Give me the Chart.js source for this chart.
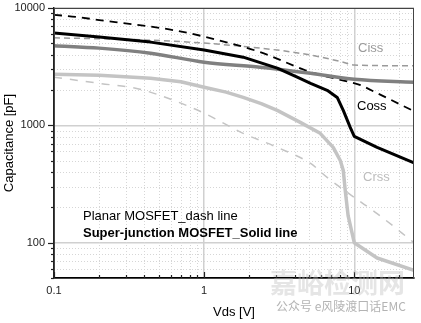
<!DOCTYPE html>
<html>
<head>
<meta charset="utf-8">
<script src="https://cdn.jsdelivr.net/npm/chart.js@4/dist/chart.umd.min.js"></script>
<style>
  html, body { margin: 0; padding: 0; background: #fff; }
  #wrap { width: 421px; height: 323px; }
</style>
</head>
<body>
<div id="wrap"><canvas id="capChart" width="421" height="323"></canvas></div>
<script>
// Vds [V] / capacitance [pF]
const cossSjV = [0.1, 0.2, 0.44, 1, 1.82, 3.07, 4.17, 5.12, 6.6, 7.7, 8.45, 9.4, 10, 14.2, 25];
const cossSjC = [6110, 5650, 5120, 4380, 3810, 3070, 2570, 2280, 1990, 1730, 1340, 960, 805, 649, 478];

const cissSjV = [0.1, 0.2, 0.44, 1, 2.36, 5.12, 10, 25];
const cissSjC = [4770, 4550, 4120, 3450, 3130, 2780, 2470, 2330];

const crssSjV = [0.1, 0.2, 0.44, 0.7, 1, 1.4, 1.82, 2.4, 3.07, 4.37, 5.93, 7.24, 8.07, 8.45, 8.71, 9.1, 10, 14.2, 25];
const crssSjC = [2730, 2670, 2520, 2350, 2110, 1920, 1730, 1530, 1340, 1060, 855, 649, 502, 412, 278, 170, 100, 74, 58];

const cissPlV = [0.1, 0.44, 1, 3.07, 5.12, 8.45, 10, 25];
const cissPlC = [5570, 5320, 5020, 4380, 3970, 3450, 3260, 3220];

const cossPlV = [0.1, 0.142, 0.2, 0.288, 0.417, 0.62, 1, 2.36, 5.12, 9.4, 11, 14.2, 25];
const cossPlC = [8750, 8380, 7890, 7440, 7010, 6490, 5700, 4210, 2840, 2330, 2200, 1880, 1320];

const crssPlV = [0.1, 0.2, 0.374, 0.62, 1, 1.82, 3.07, 5.12, 6.6, 10, 14.2, 25];
const crssPlC = [2570, 2280, 2030, 1640, 1270, 855, 649, 473, 360, 243, 177, 100];

const xTicks = [0.1, 0.2, 0.3, 0.4, 0.5, 0.6, 0.7, 0.8, 0.9, 1, 2, 3, 4, 5, 6, 7, 8, 9, 10, 20];
const yTicks = [50, 60, 70, 80, 90, 100, 200, 300, 400, 500, 600, 700, 800, 900,
                1000, 2000, 3000, 4000, 5000, 6000, 7000, 8000, 9000, 10000];

const FONT = "'Liberation Sans', Arial, sans-serif";

const pts = (xs, ys) => xs.map((x, i) => ({ x, y: ys[i] }));
const isMajor = v => Math.abs(Math.log10(v) - Math.round(Math.log10(v))) < 1e-9;

const line = (data, color, width, dash, smooth) => ({
  data,
  borderColor: color,
  borderWidth: width,
  borderDash: dash || [],
  pointRadius: 0,
  fill: false,
  tension: 0,
  cubicInterpolationMode: smooth ? "monotone" : "default",
  borderJoinStyle: "round",
});

// dotted minor grid, tick marks, frame and the in-plot texts
const extras = {
  id: "extras",
  beforeDatasetsDraw(chart) {
    const { ctx, chartArea: a, scales: { x, y } } = chart;
    ctx.save();
    ctx.strokeStyle = "#d6d6d6";
    ctx.lineWidth = 1;
    ctx.setLineDash([1, 2]);
    xTicks.filter(v => !isMajor(v)).forEach(v => {
      const px = Math.round(x.getPixelForValue(v)) + 0.5;
      ctx.beginPath(); ctx.moveTo(px, a.top); ctx.lineTo(px, a.bottom); ctx.stroke();
    });
    yTicks.filter(v => !isMajor(v)).forEach(v => {
      const py = Math.round(y.getPixelForValue(v)) + 0.5;
      ctx.beginPath(); ctx.moveTo(a.left, py); ctx.lineTo(a.right, py); ctx.stroke();
    });
    ctx.restore();
  },
  afterDraw(chart) {
    const { ctx, chartArea: a, scales: { x, y } } = chart;
    ctx.save();
    // frame
    ctx.strokeStyle = "#444";
    ctx.lineWidth = 1;
    ctx.strokeRect(a.left + 0.5, a.top + 0.5, a.right - a.left - 1, a.bottom - a.top);
    // tick marks: outward on y, inward on x
    ctx.strokeStyle = "#222";
    ctx.lineWidth = 1.2;
    yTicks.forEach(v => {
      const py = Math.round(y.getPixelForValue(v)) + 0.5;
      const len = isMajor(v) ? 6 : 3;
      ctx.beginPath(); ctx.moveTo(a.left - len, py); ctx.lineTo(a.left, py); ctx.stroke();
    });
    xTicks.forEach(v => {
      const px = Math.round(x.getPixelForValue(v)) + 0.5;
      const len = isMajor(v) ? 6 : 3;
      ctx.beginPath(); ctx.moveTo(px, a.bottom); ctx.lineTo(px, a.bottom - len); ctx.stroke();
    });
    // curve names
    ctx.textBaseline = "middle";
    ctx.textAlign = "left";
    ctx.font = "13px " + FONT;
    ctx.fillStyle = "#9a9a9a"; ctx.fillText("Ciss", 358, 48);
    ctx.fillStyle = "#000";    ctx.fillText("Coss", 357, 106);
    ctx.fillStyle = "#bdbdbd"; ctx.fillText("Crss", 363, 177);
    // legend text
    ctx.fillStyle = "#000";
    ctx.fillText("Planar MOSFET_dash line", 83, 216);
    ctx.font = "bold 13px " + FONT;
    ctx.fillText("Super-junction MOSFET_Solid line", 83, 233);
    // watermark
    ctx.fillStyle = "rgba(190,190,190,0.4)";
    ctx.font = "bold 27px 'Noto Sans CJK SC', sans-serif";
    ctx.fillText("嘉峪检测网", 270, 283);
    ctx.fillStyle = "rgba(160,160,160,0.8)";
    ctx.font = "12px 'Noto Sans CJK SC', sans-serif";
    ctx.fillText("公众号 e风陵渡口话EMC", 276, 306);
    ctx.restore();
  },
};

new Chart(document.getElementById("capChart").getContext("2d"), {
  type: "line",
  data: {
    datasets: [
      line(pts(cossSjV, cossSjC), "#000000", 3),
      line(pts(cissSjV, cissSjC), "#808080", 3.5, null, true),
      line(pts(crssSjV, crssSjC), "#c4c4c4", 3.5),
      line(pts(cossPlV, cossPlC), "#000000", 1.8, [8, 6], true),
      line(pts(cissPlV, cissPlC), "#9a9a9a", 1.5, [6, 4], true),
      line(pts(crssPlV, crssPlC), "#c4c4c4", 1.5, [8, 8], true),
    ],
  },
  options: {
    responsive: false,
    devicePixelRatio: 1,
    animation: false,
    layout: { padding: { left: 0, right: 7, top: 8, bottom: 0 } },
    plugins: { legend: { display: false }, tooltip: { enabled: false } },
    scales: {
      x: {
        type: "logarithmic",
        min: 0.1,
        max: 25,
        afterBuildTicks: s => { s.ticks = xTicks.map(value => ({ value })); },
        afterFit: s => { s.height = 45; s.paddingLeft = 0; s.paddingRight = 0; },
        ticks: {
          autoSkip: false,
          maxRotation: 0,
          padding: 6,
          color: "#222",
          font: { family: FONT, size: 11 },
          callback: v => (isMajor(v) ? String(v) : ""),
        },
        grid: {
          drawTicks: false,
          lineWidth: 1.5,
          color: c => (c.tick && isMajor(c.tick.value) ? "#d0d0d0" : "rgba(0,0,0,0)"),
        },
        border: { color: "#000", width: 2 },
        title: {
          display: true,
          text: "Vds [V]",
          color: "#000",
          font: { family: FONT, size: 13 },
          padding: { top: 0, bottom: 3 },
        },
      },
      y: {
        type: "logarithmic",
        min: 50,
        max: 10000,
        afterBuildTicks: s => { s.ticks = yTicks.map(value => ({ value })); },
        afterFit: s => { s.width = 54; s.paddingTop = 0; s.paddingBottom = 0; },
        ticks: {
          autoSkip: false,
          padding: 9,
          color: "#222",
          font: { family: FONT, size: 11 },
          callback: v => (isMajor(v) ? String(v) : ""),
        },
        grid: {
          drawTicks: false,
          lineWidth: 1.5,
          color: c => (c.tick && isMajor(c.tick.value) ? "#d0d0d0" : "rgba(0,0,0,0)"),
        },
        border: { color: "#222", width: 1.5 },
        title: {
          display: true,
          text: "Capacitance [pF]",
          color: "#000",
          font: { family: FONT, size: 13 },
          padding: { top: 2, bottom: 0 },
        },
      },
    },
  },
  plugins: [extras],
});
</script>
</body>
</html>
